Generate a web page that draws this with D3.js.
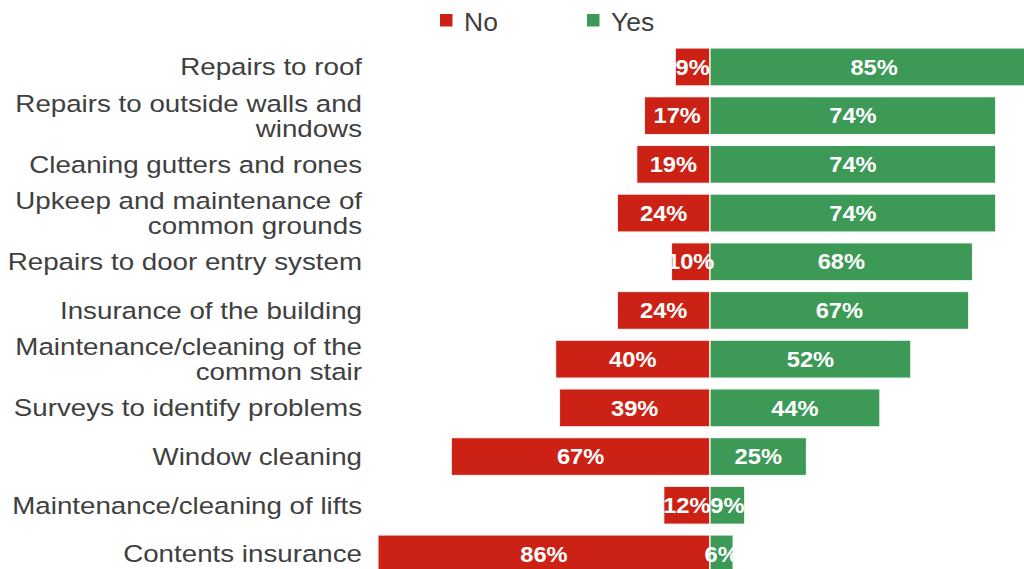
<!DOCTYPE html>
<html>
<head>
<meta charset="utf-8">
<script src="https://cdn.jsdelivr.net/npm/d3@7/dist/d3.min.js"></script>
<style>
  html, body { margin: 0; padding: 0; background: #fff; }
  svg { display: block; }
</style>
</head>
<body>
<svg id="chart" width="1024" height="569"></svg>
<script>
// Survey responses: share answering "No" and "Yes" per building service
const categories = [
  "Repairs to roof",
  "Repairs to outside walls and windows",
  "Cleaning gutters and rones",
  "Upkeep and maintenance of common grounds",
  "Repairs to door entry system",
  "Insurance of the building",
  "Maintenance/cleaning of the common stair",
  "Surveys to identify problems",
  "Window cleaning",
  "Maintenance/cleaning of lifts",
  "Contents insurance"
];
const noValues  = [9, 17, 19, 24, 10, 24, 40, 39, 67, 12, 86];
const yesValues = [85, 74, 74, 74, 68, 67, 52, 44, 25, 9, 6];
const seriesNames = ["No", "Yes"];
const seriesColors = ["#CC2216", "#3C9956"];

const svg = d3.select("#chart");

const FONT = "'Liberation Sans', Arial, sans-serif";
const STRETCH = 1.18;     // labels are set slightly wide
const LABEL_MAX = 358;    // wrap width for category labels

// Diverging scale: negative side for "No", positive for "Yes"
const x = d3.scaleLinear().domain([-100, 100]).range([323.8, 1096.2]);
const y = d3.scaleBand()
  .domain(categories)
  .range([42.6, 578.3])
  .paddingInner(0.22)
  .paddingOuter(0.11);

const rows = categories.map((c, i) => ({ cat: c, no: noValues[i], yes: yesValues[i] }));

const segments = [];
rows.forEach(r => {
  segments.push({ cat: r.cat, s: 0, x0: -r.no, x1: 0, v: r.no });
  segments.push({ cat: r.cat, s: 1, x0: 0, x1: r.yes, v: r.yes });
});

const plot = svg.append("g");

plot.selectAll("rect.bar")
  .data(segments)
  .join("rect")
  .attr("class", "bar")
  .attr("x", d => x(d.x0))
  .attr("y", d => y(d.cat))
  .attr("width", d => x(d.x1) - x(d.x0))
  .attr("height", y.bandwidth())
  .attr("fill", d => seriesColors[d.s])
  .attr("stroke", "#ffffff")
  .attr("stroke-opacity", 0.85)
  .attr("stroke-width", 1.4);

// Value labels centred in each segment
plot.selectAll("g.val")
  .data(segments)
  .join("g")
  .attr("class", "val")
  .attr("transform", d => `translate(${(x(d.x0) + x(d.x1)) / 2},${y(d.cat) + y.bandwidth() / 2})`)
  .append("text")
  .attr("transform", `scale(1.1,1)`)
  .attr("text-anchor", "middle")
  .attr("dy", "0.36em")
  .attr("fill", "#ffffff")
  .attr("font-family", FONT)
  .attr("font-weight", "bold")
  .attr("font-size", 21.5)
  .text(d => d.v + "%");

// Category labels, right aligned, wrapped to two lines when too long
const labelG = svg.append("g");
rows.forEach(r => {
  const g = labelG.append("g")
    .attr("transform", `translate(362,${y(r.cat) + y.bandwidth() / 2})`);
  const t = g.append("text")
    .attr("transform", `scale(${STRETCH},1)`)
    .attr("text-anchor", "end")
    .attr("fill", "#404040")
    .attr("font-family", FONT)
    .attr("font-size", 23.5);

  const words = r.cat.split(" ");
  const lines = [];
  let line = [];
  const probe = t.append("tspan");
  words.forEach(w => {
    const trial = line.concat(w).join(" ");
    probe.text(trial);
    if (probe.node().getComputedTextLength() * STRETCH > LABEL_MAX && line.length) {
      lines.push(line.join(" "));
      line = [w];
    } else {
      line.push(w);
    }
  });
  lines.push(line.join(" "));
  probe.remove();

  const lh = 25;
  const first = -(lines.length - 1) * lh / 2;
  lines.forEach((l, k) => {
    t.append("tspan")
      .attr("x", 0)
      .attr("y", first + k * lh)
      .attr("dy", "0.36em")
      .text(l);
  });
});

// Legend
const legend = svg.append("g");
const legendX = [440, 587];
seriesNames.forEach((name, i) => {
  legend.append("rect")
    .attr("x", legendX[i])
    .attr("y", 14)
    .attr("width", 12.5)
    .attr("height", 12.5)
    .attr("fill", seriesColors[i]);
  legend.append("text")
    .attr("x", legendX[i] + 24)
    .attr("y", 31)
    .attr("fill", "#404040")
    .attr("font-family", FONT)
    .attr("font-size", 26.5)
    .text(name);
});
</script>
</body>
</html>
